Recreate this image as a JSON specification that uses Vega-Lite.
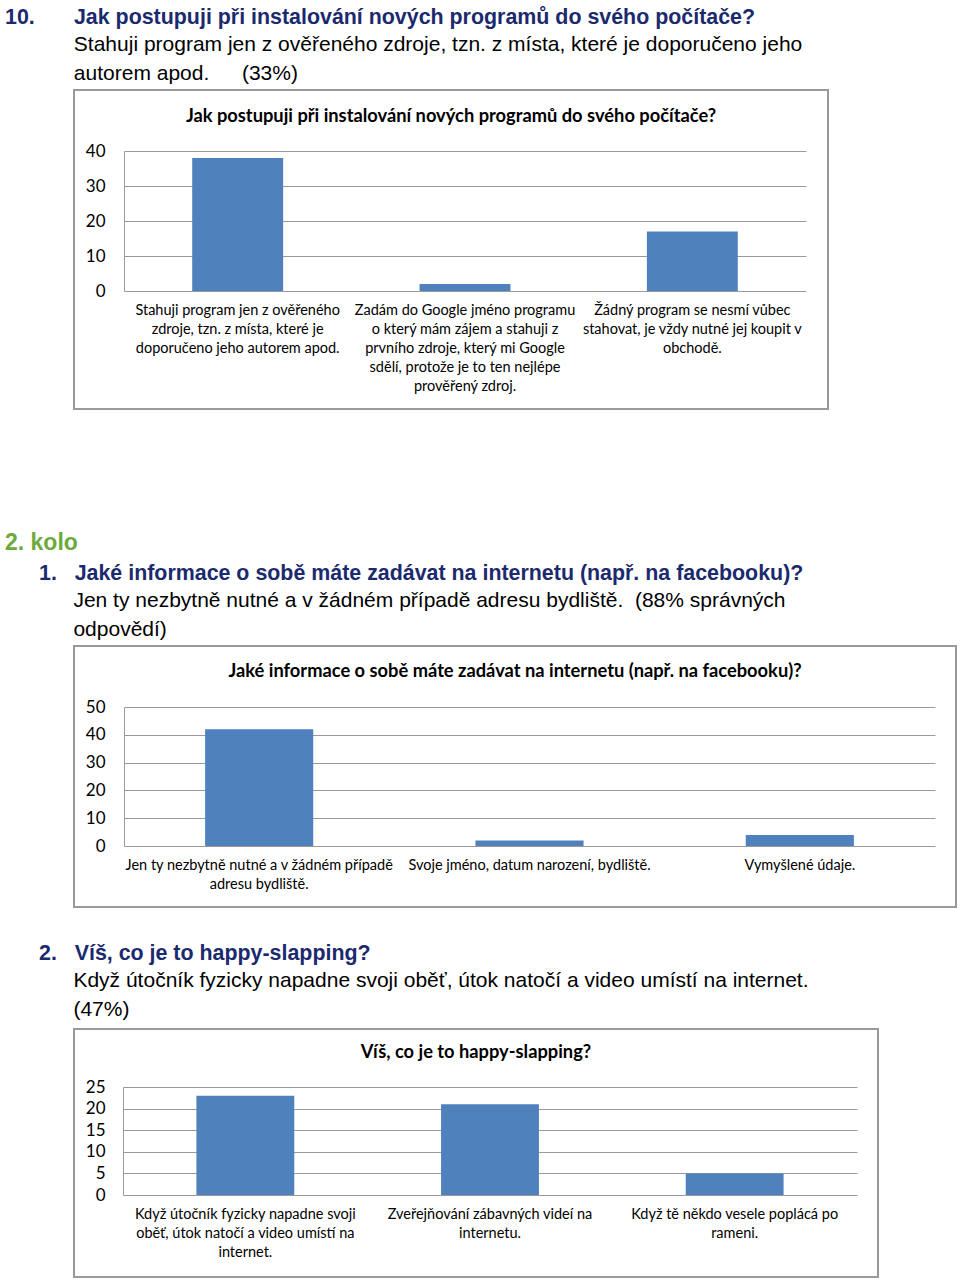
{
  "$schema": "https://vega.github.io/schema/vega-lite/v6.json",
  "background": "white",
  "padding": {"left": 5, "top": 6, "right": 0, "bottom": 0},
  "config": {
    "view": {"stroke": "#9a9a9a", "strokeWidth": 2},
    "axisY": {"title": null, "ticks": false, "domain": true, "domainColor": "#9a9a9a", "grid": true, "gridColor": "#9a9a9a", "labelFont": "Lato", "labelFontSize": 17, "labelColor": "#000"},
    "axisX": {"title": null, "orient": "bottom", "domain": false, "ticks": false, "grid": false, "labelPadding": 12, "labelLineHeight": 19, "labelFont": "Lato", "labelFontSize": 14.5, "labelColor": "#000", "labelBaseline": "top", "labelLimit": 400, "labelOverlap": false, "labelAngle": 0},
    "bar": {"color": "#4f81bd"}
  },
  "spacing": 121,
  "vconcat": [
    {
      "title": {
        "text": "10.\u2003\u00a0\u00a0\u00a0Jak postupuji při instalování nových programů do svého počítače?",
        "subtitle": ["\u200b\u2003\u2003\u2003\u00a0Stahuji program jen z ověřeného zdroje, tzn. z místa, které je doporučeno jeho", "\u200b\u2003\u2003\u2003\u00a0autorem apod. \u2003 (33%)"],
        "anchor": "start", "frame": "group", "dx": -69, "offset": 5,
        "font": "Liberation Sans", "fontSize": 21.4, "fontWeight": "bold", "color": "#1b2a6e",
        "subtitleFont": "Liberation Sans", "subtitleFontSize": 21, "subtitleColor": "#000", "subtitleLineHeight": 29, "subtitlePadding": 6
      },
      "vconcat": [
        {
          "width": 754, "height": 319,
          "title": {"text": "Jak postupuji při instalování nových programů do svého počítače?", "font": "Lato", "fontSize": 18.3, "fontWeight": "bold", "color": "#000", "anchor": "middle", "frame": "group", "offset": -36},
          "data": {"values": [
            {"answer": "Stahuji program jen z ověřeného\nzdroje, tzn. z místa, které je\ndoporučeno jeho autorem apod.", "count": 38},
            {"answer": "Zadám do Google jméno programu\no který mám zájem a stahuji z\nprvního zdroje, který mi Google\nsdělí, protože je to ten nejlépe\nprověřený zdroj.", "count": 2},
            {"answer": "Žádný program se nesmí vůbec\nstahovat, je vždy nutné jej koupit v\nobchodě.", "count": 17}
          ]},
          "mark": {"type": "bar"},
          "encoding": {
            "x": {"field": "answer", "type": "nominal", "sort": null,
                  "scale": {"range": [50, 732], "paddingInner": 0.6, "paddingOuter": 0.3},
                  "axis": {"offset": -118, "labelExpr": "split(datum.label, '\\n')"}},
            "y": {"field": "count", "type": "quantitative",
                  "scale": {"domain": [0, 40], "range": [201, 61], "nice": false},
                  "axis": {"values": [0, 10, 20, 30, 40], "offset": -50, "labelPadding": 19}}
          }
        }
      ]
    },
    {
      "spacing": 34,
      "vconcat": [
        {
          "title": {"text": "2. kolo", "anchor": "start", "frame": "group", "dx": -69, "offset": 8, "font": "Liberation Sans", "fontSize": 23, "fontWeight": "bold", "color": "#6caa3c"},
          "vconcat": [
            {
              "title": {
                "text": "1.\u00a0\u00a0\u00a0Jaké informace o sobě máte zadávat na internetu (např. na facebooku)?",
                "subtitle": ["\u200b\u2003\u00a0\u00a0\u200aJen ty nezbytně nutné a v žádném případě adresu bydliště. \u00a0(88% správných", "\u200b\u2003\u00a0\u00a0\u200aodpovědí)"],
                "anchor": "start", "frame": "group", "dx": -35, "offset": 5,
                "font": "Liberation Sans", "fontSize": 21.4, "fontWeight": "bold", "color": "#1b2a6e",
                "subtitleFont": "Liberation Sans", "subtitleFontSize": 21, "subtitleColor": "#000", "subtitleLineHeight": 29, "subtitlePadding": 6
              },
              "vconcat": [
                {
                  "width": 882, "height": 261,
                  "title": {"text": "Jaké informace o sobě máte zadávat na internetu (např. na facebooku)?", "font": "Lato", "fontSize": 18.3, "fontWeight": "bold", "color": "#000", "anchor": "middle", "frame": "group", "offset": -35},
                  "data": {"values": [
                    {"answer": "Jen ty nezbytně nutné a v žádném případě\nadresu bydliště.", "count": 42},
                    {"answer": "Svoje jméno, datum narození, bydliště.", "count": 2},
                    {"answer": "Vymyšlené údaje.", "count": 4}
                  ]},
                  "mark": {"type": "bar"},
                  "encoding": {
                    "x": {"field": "answer", "type": "nominal", "sort": null,
                          "scale": {"range": [50, 861], "paddingInner": 0.6, "paddingOuter": 0.3},
                          "axis": {"offset": -61, "labelExpr": "split(datum.label, '\\n')"}},
                    "y": {"field": "count", "type": "quantitative",
                          "scale": {"domain": [0, 50], "range": [200, 61], "nice": false},
                          "axis": {"values": [0, 10, 20, 30, 40, 50], "offset": -50, "labelPadding": 19}}
                  }
                }
              ]
            }
          ]
        },
        {
          "title": {
            "text": "2.\u00a0\u00a0\u00a0Víš, co je to happy-slapping?",
            "subtitle": ["\u200b\u2003\u00a0\u00a0\u200aKdyž útočník fyzicky napadne svoji oběť, útok natočí a video umístí na internet.", "\u200b\u2003\u00a0\u00a0\u200a(47%)"],
            "anchor": "start", "frame": "group", "dx": -35, "offset": 8,
            "font": "Liberation Sans", "fontSize": 21.4, "fontWeight": "bold", "color": "#1b2a6e",
            "subtitleFont": "Liberation Sans", "subtitleFontSize": 21, "subtitleColor": "#000", "subtitleLineHeight": 29, "subtitlePadding": 6
          },
          "vconcat": [
            {
              "width": 804, "height": 248,
              "title": {"text": "Víš, co je to happy-slapping?", "font": "Lato", "fontSize": 18.3, "fontWeight": "bold", "color": "#000", "anchor": "middle", "frame": "group", "offset": -33},
              "data": {"values": [
                {"answer": "Když útočník fyzicky napadne svoji\noběť, útok natočí a video umístí na\ninternet.", "count": 23},
                {"answer": "Zveřejňování zábavných videí na\ninternetu.", "count": 21},
                {"answer": "Když tě někdo vesele poplácá po\nrameni.", "count": 5}
              ]},
              "mark": {"type": "bar"},
              "encoding": {
                "x": {"field": "answer", "type": "nominal", "sort": null,
                      "scale": {"range": [49, 783], "paddingInner": 0.6, "paddingOuter": 0.3},
                      "axis": {"offset": -82, "labelExpr": "split(datum.label, '\\n')"}},
                "y": {"field": "count", "type": "quantitative",
                      "scale": {"domain": [0, 25], "range": [166, 58], "nice": false},
                      "axis": {"values": [0, 5, 10, 15, 20, 25], "offset": -49, "labelPadding": 18}}
              }
            }
          ]
        }
      ]
    }
  ]
}
